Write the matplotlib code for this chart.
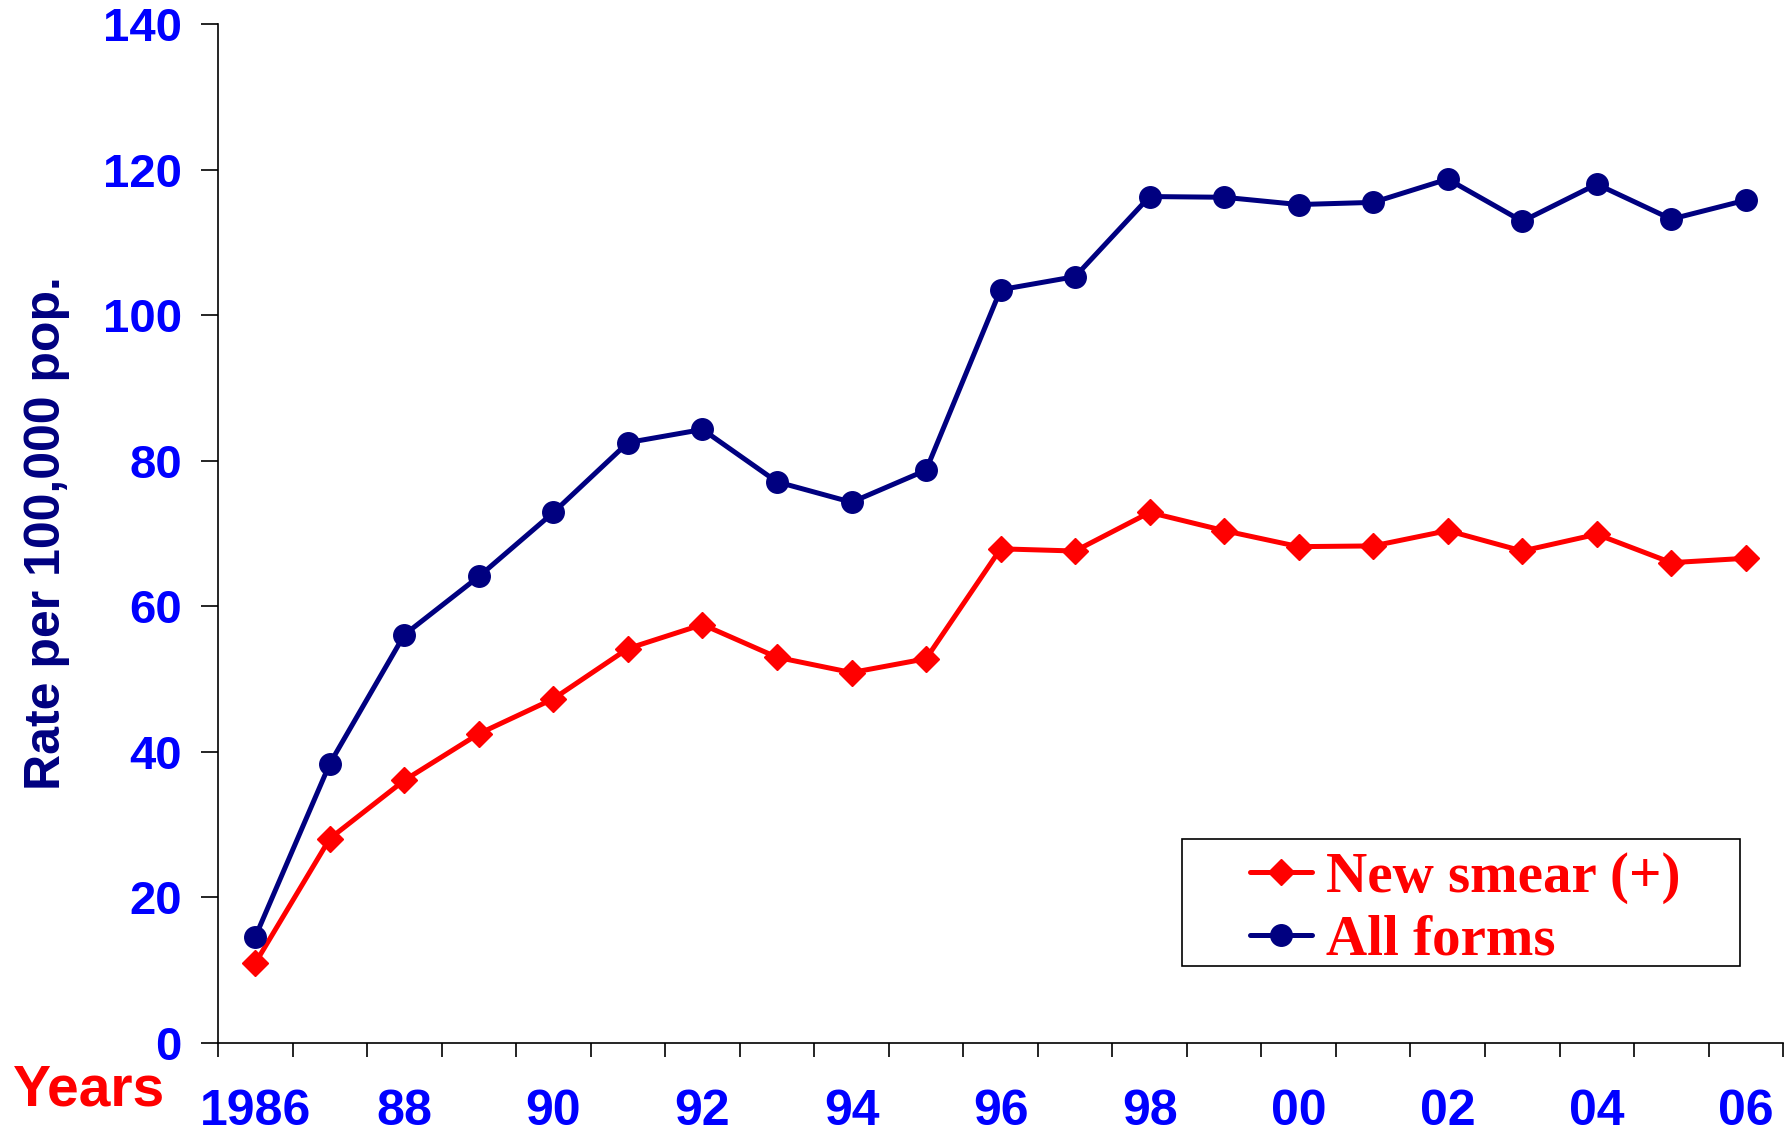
import matplotlib.pyplot as plt
from matplotlib.patches import Rectangle

# Notification rates per 100,000 population, 1986-2006
years = list(range(1986, 2007))
all_forms = [14.6, 38.4, 56.1, 64.1, 72.9, 82.5, 84.3, 77.1, 74.3, 78.7, 103.5,
             105.3, 116.3, 116.2, 115.2, 115.5, 118.7, 112.9, 118.0, 113.2, 115.8]
new_smear = [11.0, 28.1, 36.1, 42.5, 47.3, 54.2, 57.5, 53.0, 50.9, 52.8, 67.9,
             67.6, 72.9, 70.4, 68.2, 68.3, 70.4, 67.6, 69.9, 66.0, 66.6]
year_labels = ["1986", "88", "90", "92", "94", "96", "98", "00", "02", "04", "06"]

sans = "Liberation Sans"
serif = "Liberation Serif"
navy = "#000080"

fig = plt.figure(figsize=(17.89, 11.34), dpi=100)
ax = fig.add_axes([0.1219, 0.0802, 0.8748, 0.8986])

x = list(range(len(years)))
ax.plot(x, new_smear, color="red", lw=3.6, marker="D", ms=13,
        label="New smear (+)", solid_capstyle="round")
ax.plot(x, all_forms, color=navy, lw=3.6, marker="o", ms=15.5,
        label="All forms", solid_capstyle="round")

ax.set_xlim(-0.5, len(years) - 0.5)
ax.set_ylim(0, 140)

# category axis: ticks between years, labels every other year
ax.set_xticks(x[::2])
ax.set_xticklabels(year_labels)
ax.set_xticks([i - 0.5 for i in range(len(years) + 1)], minor=True)
ax.tick_params(axis="x", which="major", length=0, pad=33)
ax.tick_params(axis="x", which="minor", length=10, width=1.2, direction="out")
for t in ax.get_xticklabels():
    t.set_fontfamily(sans)
    t.set_fontweight("bold")
    t.set_fontsize(36)
    t.set_color("blue")

ax.set_yticks(range(0, 141, 20))
ax.tick_params(axis="y", length=12, width=1.2, direction="out", pad=14)
for t in ax.get_yticklabels():
    t.set_fontfamily(sans)
    t.set_fontweight("bold")
    t.set_fontsize(34)
    t.set_color("blue")

ax.spines["top"].set_visible(False)
ax.spines["right"].set_visible(False)
ax.spines["left"].set_linewidth(1.2)
ax.spines["bottom"].set_linewidth(1.2)

ax.set_ylabel("Rate per 100,000 pop.", fontfamily=sans, fontweight="bold",
              fontsize=36, color=navy, va="center")
ax.yaxis.set_label_coords(-0.109, 0.50)

ax.text(-0.131, -0.047, "Years", transform=ax.transAxes, ha="left",
        va="center", fontfamily=sans, fontweight="bold", fontsize=41,
        color="red")

# legend box drawn separately so its size can be set freely
ax.add_patch(Rectangle((0.616, 0.0756), 0.3565, 0.1246, transform=ax.transAxes,
                       fill=False, edgecolor="black", lw=1.2, zorder=5))
leg = ax.legend(loc="center left", bbox_to_anchor=(0.6594, 0.1314),
                frameon=False, numpoints=1, handlelength=1.09,
                handletextpad=0.25, labelspacing=0.19, borderpad=0,
                borderaxespad=0,
                prop={"family": serif, "weight": "bold", "size": 41})
for t in leg.get_texts():
    t.set_color("red")

fig.savefig("out.png", dpi=100)
